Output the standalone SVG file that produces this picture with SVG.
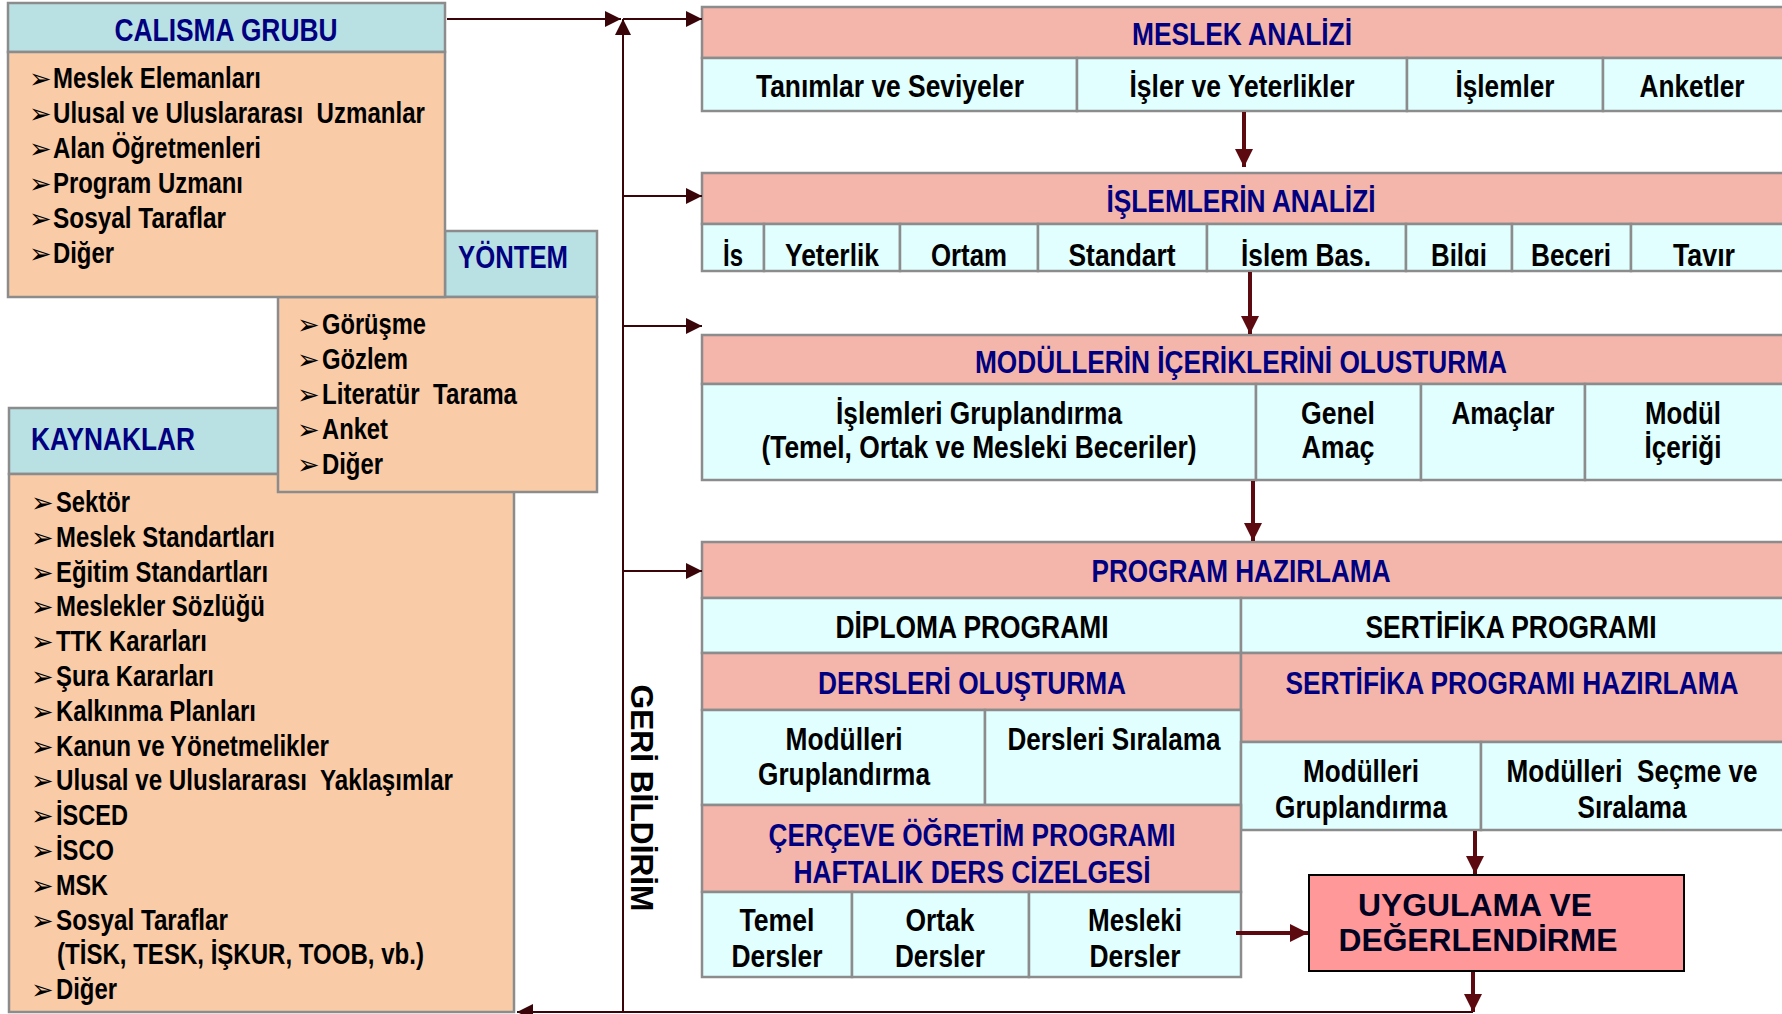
<svg xmlns="http://www.w3.org/2000/svg" width="1782" height="1014" viewBox="0 0 1782 1014">
<defs>
<style>
.bx{stroke:#8c8c8c;stroke-width:2.5}
.hb{fill:#b9e0e3}
.pb{fill:#f9cba7}
.pk{fill:#f4b5aa}
.cy{fill:#e1ffff}
text{font-family:"Liberation Sans Narrow","Arial Narrow","Liberation Sans",Arial,sans-serif;font-weight:bold}
.h{fill:#000080;font-size:31px}
.hc{fill:#000080;font-size:31px;text-anchor:middle}
.c{fill:#000;font-size:32px;text-anchor:middle}
.i{fill:#000;font-size:29px}
.b{font-family:"DejaVu Sans",sans-serif;font-weight:bold;font-size:27px;fill:#000}
.u{font-family:"Liberation Sans",Arial,sans-serif;fill:#000022;font-size:31px;text-anchor:middle}
.gb{font-family:"Liberation Sans",Arial,sans-serif;fill:#000;font-size:32px;text-anchor:middle}
.fl{fill:none;stroke:#3a0509;stroke-width:2}
.tk{fill:none;stroke:#5c0a10;stroke-width:4}
</style>
<marker id="ah" markerUnits="userSpaceOnUse" markerWidth="17" markerHeight="17" refX="16" refY="8" orient="auto"><path d="M0,0 L16,8 L0,16 z" fill="#3a0509"/></marker>
<marker id="ak" markerUnits="userSpaceOnUse" markerWidth="19" markerHeight="19" refX="18" refY="9" orient="auto"><path d="M0,0 L18,9 L0,18 z" fill="#5c0a10"/></marker>
<clipPath id="clipIs"><rect x="702" y="224" width="1080" height="42"/></clipPath>
</defs>
<rect width="1782" height="1014" fill="#fff"/>

<g id="kaynaklar">
<rect class="bx hb" x="9" y="408" width="505" height="66"/>
<rect class="bx pb" x="9" y="474" width="505" height="538"/>
<text class="h" x="31" y="450" textLength="164" lengthAdjust="spacingAndGlyphs">KAYNAKLAR</text>
<text class="b" x="31" y="512">➢</text><text class="b" x="31" y="546.8">➢</text><text class="b" x="31" y="581.6">➢</text><text class="b" x="31" y="616.4">➢</text><text class="b" x="31" y="651.2">➢</text><text class="b" x="31" y="686">➢</text><text class="b" x="31" y="720.8">➢</text><text class="b" x="31" y="755.6">➢</text><text class="b" x="31" y="790.4">➢</text><text class="b" x="31" y="825.2">➢</text><text class="b" x="31" y="860">➢</text><text class="b" x="31" y="894.8">➢</text><text class="b" x="31" y="929.6">➢</text><text class="b" x="31" y="999.2">➢</text>
<text class="i" x="56" y="512" textLength="74" lengthAdjust="spacingAndGlyphs">Sektör</text>
<text class="i" x="56" y="546.8" textLength="219" lengthAdjust="spacingAndGlyphs">Meslek Standartları</text>
<text class="i" x="56" y="581.6" textLength="212" lengthAdjust="spacingAndGlyphs">Eğitim Standartları</text>
<text class="i" x="56" y="616.4" textLength="209" lengthAdjust="spacingAndGlyphs">Meslekler Sözlüğü</text>
<text class="i" x="56" y="651.2" textLength="151" lengthAdjust="spacingAndGlyphs">TTK Kararları</text>
<text class="i" x="56" y="686" textLength="158" lengthAdjust="spacingAndGlyphs">Şura Kararları</text>
<text class="i" x="56" y="720.8" textLength="200" lengthAdjust="spacingAndGlyphs">Kalkınma Planları</text>
<text class="i" x="56" y="755.6" textLength="273" lengthAdjust="spacingAndGlyphs">Kanun ve Yönetmelikler</text>
<text class="i" x="56" y="790.4" textLength="397" lengthAdjust="spacingAndGlyphs" xml:space="preserve">Ulusal ve Uluslararası  Yaklaşımlar</text>
<text class="i" x="56" y="825.2" textLength="72" lengthAdjust="spacingAndGlyphs">İSCED</text>
<text class="i" x="56" y="860" textLength="58" lengthAdjust="spacingAndGlyphs">İSCO</text>
<text class="i" x="56" y="894.8" textLength="52" lengthAdjust="spacingAndGlyphs">MSK</text>
<text class="i" x="56" y="929.6" textLength="172" lengthAdjust="spacingAndGlyphs">Sosyal Taraflar</text>
<text class="i" x="57" y="964.4" textLength="367" lengthAdjust="spacingAndGlyphs">(TİSK, TESK, İŞKUR, TOOB, vb.)</text>
<text class="i" x="56" y="999.2" textLength="61" lengthAdjust="spacingAndGlyphs">Diğer</text>
</g>

<g id="yontem">
<rect class="bx hb" x="445" y="231" width="152" height="66"/>
<rect class="bx pb" x="278" y="297" width="319" height="195"/>
<text class="h" x="458" y="268" textLength="110" lengthAdjust="spacingAndGlyphs">YÖNTEM</text>
<text class="b" x="297" y="334">➢</text><text class="b" x="297" y="369">➢</text><text class="b" x="297" y="404">➢</text><text class="b" x="297" y="439">➢</text><text class="b" x="297" y="474">➢</text>
<text class="i" x="322" y="334" textLength="104" lengthAdjust="spacingAndGlyphs">Görüşme</text>
<text class="i" x="322" y="369" textLength="86" lengthAdjust="spacingAndGlyphs">Gözlem</text>
<text class="i" x="322" y="404" textLength="195" lengthAdjust="spacingAndGlyphs" xml:space="preserve">Literatür  Tarama</text>
<text class="i" x="322" y="439" textLength="66" lengthAdjust="spacingAndGlyphs">Anket</text>
<text class="i" x="322" y="474" textLength="61" lengthAdjust="spacingAndGlyphs">Diğer</text>
</g>

<g id="calisma-grubu">
<rect class="bx hb" x="8" y="3" width="437" height="49"/>
<rect class="bx pb" x="8" y="52" width="437" height="245"/>
<text class="hc" x="226" y="41" textLength="223" lengthAdjust="spacingAndGlyphs">CALISMA GRUBU</text>
<text class="b" x="29" y="88">➢</text><text class="b" x="29" y="123">➢</text><text class="b" x="29" y="158">➢</text><text class="b" x="29" y="193">➢</text><text class="b" x="29" y="228">➢</text><text class="b" x="29" y="263">➢</text>
<text class="i" x="53" y="88" textLength="208" lengthAdjust="spacingAndGlyphs">Meslek Elemanları</text>
<text class="i" x="53" y="123" textLength="372" lengthAdjust="spacingAndGlyphs" xml:space="preserve">Ulusal ve Uluslararası  Uzmanlar</text>
<text class="i" x="53" y="158" textLength="208" lengthAdjust="spacingAndGlyphs">Alan Öğretmenleri</text>
<text class="i" x="53" y="193" textLength="190" lengthAdjust="spacingAndGlyphs">Program Uzmanı</text>
<text class="i" x="53" y="228" textLength="173" lengthAdjust="spacingAndGlyphs">Sosyal Taraflar</text>
<text class="i" x="53" y="263" textLength="61" lengthAdjust="spacingAndGlyphs">Diğer</text>
</g>

<g id="meslek-analizi">
<rect class="bx pk" x="702" y="7" width="1082" height="51"/>
<rect class="bx cy" x="702" y="58" width="375" height="53"/>
<rect class="bx cy" x="1077" y="58" width="330" height="53"/>
<rect class="bx cy" x="1407" y="58" width="196" height="53"/>
<rect class="bx cy" x="1603" y="58" width="181" height="53"/>
<text class="hc" x="1242" y="45" textLength="220" lengthAdjust="spacingAndGlyphs">MESLEK ANALİZİ</text>
<text class="c" x="890" y="97" textLength="268" lengthAdjust="spacingAndGlyphs">Tanımlar ve Seviyeler</text>
<text class="c" x="1242" y="97" textLength="225" lengthAdjust="spacingAndGlyphs">İşler ve Yeterlikler</text>
<text class="c" x="1505" y="97" textLength="99" lengthAdjust="spacingAndGlyphs">İşlemler</text>
<text class="c" x="1692" y="97" textLength="105" lengthAdjust="spacingAndGlyphs">Anketler</text>
</g>

<g id="islemlerin-analizi">
<rect class="bx pk" x="702" y="173" width="1082" height="51"/>
<rect class="bx cy" x="702" y="224" width="62" height="47"/>
<rect class="bx cy" x="764" y="224" width="136" height="47"/>
<rect class="bx cy" x="900" y="224" width="138" height="47"/>
<rect class="bx cy" x="1038" y="224" width="169" height="47"/>
<rect class="bx cy" x="1207" y="224" width="199" height="47"/>
<rect class="bx cy" x="1406" y="224" width="106" height="47"/>
<rect class="bx cy" x="1512" y="224" width="119" height="47"/>
<rect class="bx cy" x="1631" y="224" width="153" height="47"/>
<text class="hc" x="1241" y="212" textLength="269" lengthAdjust="spacingAndGlyphs">İŞLEMLERİN ANALİZİ</text>
<g clip-path="url(#clipIs)">
<text class="c" x="733" y="266" textLength="20" lengthAdjust="spacingAndGlyphs">İş</text>
<text class="c" x="832" y="266" textLength="94" lengthAdjust="spacingAndGlyphs">Yeterlik</text>
<text class="c" x="969" y="266" textLength="76" lengthAdjust="spacingAndGlyphs">Ortam</text>
<text class="c" x="1122" y="266" textLength="107" lengthAdjust="spacingAndGlyphs">Standart</text>
<text class="c" x="1306" y="266" textLength="130" lengthAdjust="spacingAndGlyphs">İşlem Baş.</text>
<text class="c" x="1459" y="266" textLength="56" lengthAdjust="spacingAndGlyphs">Bilgi</text>
<text class="c" x="1571" y="266" textLength="80" lengthAdjust="spacingAndGlyphs">Beceri</text>
<text class="c" x="1704" y="266" textLength="62" lengthAdjust="spacingAndGlyphs">Tavır</text>
</g>
</g>

<g id="modullerin-icerikleri">
<rect class="bx pk" x="702" y="335" width="1082" height="49"/>
<rect class="bx cy" x="702" y="384" width="554" height="96"/>
<rect class="bx cy" x="1256" y="384" width="165" height="96"/>
<rect class="bx cy" x="1421" y="384" width="164" height="96"/>
<rect class="bx cy" x="1585" y="384" width="199" height="96"/>
<text class="hc" x="1241" y="373" textLength="532" lengthAdjust="spacingAndGlyphs">MODÜLLERİN İÇERİKLERİNİ OLUSTURMA</text>
<text class="c" x="979" y="424" textLength="286" lengthAdjust="spacingAndGlyphs">İşlemleri Gruplandırma</text>
<text class="c" x="979" y="458" textLength="435" lengthAdjust="spacingAndGlyphs">(Temel, Ortak ve Mesleki Beceriler)</text>
<text class="c" x="1338" y="424" textLength="74" lengthAdjust="spacingAndGlyphs">Genel</text>
<text class="c" x="1338" y="458" textLength="73" lengthAdjust="spacingAndGlyphs">Amaç</text>
<text class="c" x="1503" y="424" textLength="103" lengthAdjust="spacingAndGlyphs">Amaçlar</text>
<text class="c" x="1683" y="424" textLength="76" lengthAdjust="spacingAndGlyphs">Modül</text>
<text class="c" x="1683" y="458" textLength="77" lengthAdjust="spacingAndGlyphs">İçeriği</text>
</g>

<g id="program-hazirlama">
<rect class="bx pk" x="702" y="542" width="1082" height="56"/>
<rect class="bx cy" x="702" y="598" width="539" height="55"/>
<rect class="bx cy" x="1241" y="598" width="543" height="55"/>
<rect class="bx pk" x="702" y="653" width="539" height="57"/>
<rect class="bx pk" x="1241" y="653" width="543" height="89"/>
<rect class="bx cy" x="702" y="710" width="283" height="95"/>
<rect class="bx cy" x="985" y="710" width="256" height="95"/>
<rect class="bx cy" x="1241" y="742" width="240" height="88"/>
<rect class="bx cy" x="1481" y="742" width="303" height="88"/>
<rect class="bx pk" x="702" y="805" width="539" height="87"/>
<rect class="bx cy" x="702" y="892" width="150" height="85"/>
<rect class="bx cy" x="852" y="892" width="177" height="85"/>
<rect class="bx cy" x="1029" y="892" width="212" height="85"/>
<text class="hc" x="1241" y="582" textLength="299" lengthAdjust="spacingAndGlyphs">PROGRAM HAZIRLAMA</text>
<text class="c" x="972" y="638" textLength="273" lengthAdjust="spacingAndGlyphs">DİPLOMA PROGRAMI</text>
<text class="c" x="1511" y="638" textLength="291" lengthAdjust="spacingAndGlyphs">SERTİFİKA PROGRAMI</text>
<text class="hc" x="972" y="694" textLength="308" lengthAdjust="spacingAndGlyphs">DERSLERİ OLUŞTURMA</text>
<text class="hc" x="1512" y="694" textLength="453" lengthAdjust="spacingAndGlyphs">SERTİFİKA PROGRAMI HAZIRLAMA</text>
<text class="c" x="844" y="750" textLength="117" lengthAdjust="spacingAndGlyphs">Modülleri</text>
<text class="c" x="844" y="785" textLength="172" lengthAdjust="spacingAndGlyphs">Gruplandırma</text>
<text class="c" x="1114" y="750" textLength="213" lengthAdjust="spacingAndGlyphs">Dersleri Sıralama</text>
<text class="c" x="1361" y="782" textLength="116" lengthAdjust="spacingAndGlyphs">Modülleri</text>
<text class="c" x="1361" y="818" textLength="172" lengthAdjust="spacingAndGlyphs">Gruplandırma</text>
<text class="c" x="1632" y="782" textLength="251" lengthAdjust="spacingAndGlyphs" xml:space="preserve">Modülleri  Seçme ve</text>
<text class="c" x="1632" y="818" textLength="109" lengthAdjust="spacingAndGlyphs">Sıralama</text>
<text class="hc" x="972" y="846" textLength="407" lengthAdjust="spacingAndGlyphs">ÇERÇEVE ÖĞRETİM PROGRAMI</text>
<text class="hc" x="972" y="883" textLength="357" lengthAdjust="spacingAndGlyphs">HAFTALIK DERS CİZELGESİ</text>
<text class="c" x="777" y="931" textLength="75" lengthAdjust="spacingAndGlyphs">Temel</text>
<text class="c" x="777" y="967" textLength="91" lengthAdjust="spacingAndGlyphs">Dersler</text>
<text class="c" x="940" y="931" textLength="69" lengthAdjust="spacingAndGlyphs">Ortak</text>
<text class="c" x="940" y="967" textLength="90" lengthAdjust="spacingAndGlyphs">Dersler</text>
<text class="c" x="1135" y="931" textLength="94" lengthAdjust="spacingAndGlyphs">Mesleki</text>
<text class="c" x="1135" y="967" textLength="91" lengthAdjust="spacingAndGlyphs">Dersler</text>
</g>

<g id="uygulama-degerlendirme">
<rect x="1309" y="875" width="375" height="96" fill="#ff9999" stroke="#000" stroke-width="2"/>
<text class="u" x="1475" y="916" textLength="234" lengthAdjust="spacingAndGlyphs">UYGULAMA VE</text>
<text class="u" x="1478" y="951" textLength="279" lengthAdjust="spacingAndGlyphs">DEĞERLENDİRME</text>
</g>

<g id="connectors">
<path class="fl" d="M447,19 H621" marker-end="url(#ah)"/>
<path class="fl" d="M623,1013 V19" marker-end="url(#ah)"/>
<path class="fl" d="M623,19 H702" marker-end="url(#ah)"/>
<path class="fl" d="M623,196 H702" marker-end="url(#ah)"/>
<path class="fl" d="M623,326 H702" marker-end="url(#ah)"/>
<path class="fl" d="M623,571 H702" marker-end="url(#ah)"/>
<path class="fl" d="M1473,1012 H517" stroke-width="3" marker-end="url(#ah)"/>
<path class="tk" d="M1244,112 V167" marker-end="url(#ak)"/>
<path class="tk" d="M1250,272 V334" marker-end="url(#ak)"/>
<path class="tk" d="M1253,481 V541" marker-end="url(#ak)"/>
<path class="tk" d="M1475,831 V874" marker-end="url(#ak)"/>
<path class="tk" d="M1473,972 V1012" marker-end="url(#ak)"/>
<path class="tk" d="M1236,933 H1308" stroke-width="5" marker-end="url(#ak)"/>
<text class="gb" transform="translate(631,798) rotate(90)" textLength="227" lengthAdjust="spacingAndGlyphs">GERİ BİLDİRİM</text>
</g>
</svg>
